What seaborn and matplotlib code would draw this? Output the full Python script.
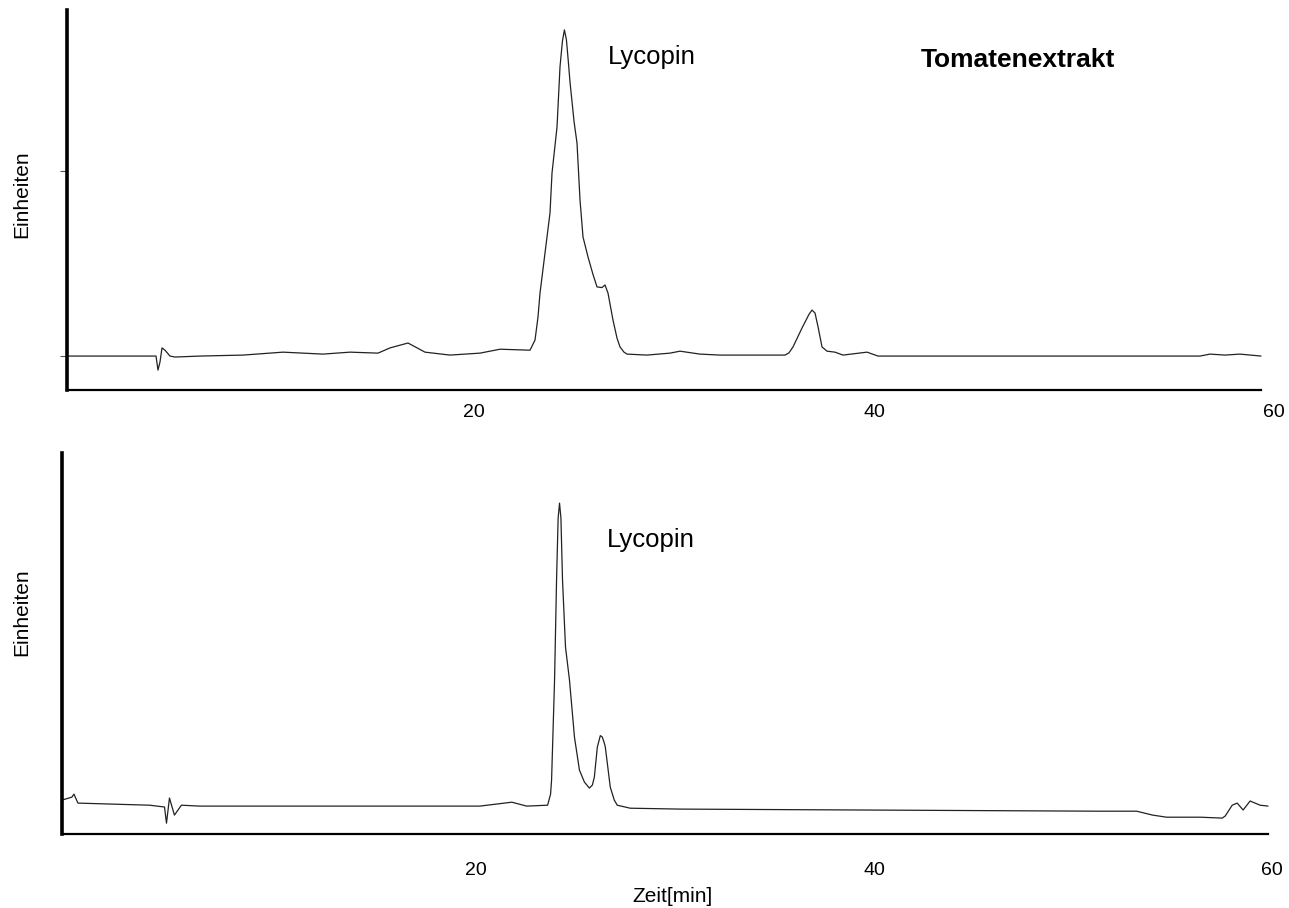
import numpy as np
import pandas as pd
import matplotlib
matplotlib.use("Agg")
import matplotlib.pyplot as plt
import seaborn as sns

# Chromatogramm Tomatenextrakt (oben) und Lycopin-Standard (unten)
# Zeit in min, Signal in relativen Einheiten (Hauptpeak = 100)
zeit_oben = [-0.35, 3.8, 4.1, 4.2, 4.3, 4.4, 4.55, 4.8, 5.05, 6.3, 8.45, 10.45,
             12.45, 13.8, 15.2, 15.8, 16.7, 17.55, 18.8, 20.3, 21.3, 22.8, 23.05,
             23.2, 23.3, 23.55, 23.8, 23.9, 24.15, 24.3, 24.42, 24.52, 24.62,
             24.72, 24.8, 25.0, 25.15, 25.3, 25.45, 25.7, 25.95, 26.15, 26.4,
             26.55, 26.7, 26.95, 27.15, 27.3, 27.5, 27.65, 28.65, 29.8,
             30.3, 31.3, 32.3, 35.55, 35.75, 35.95, 36.4, 36.75, 36.9, 37.05,
             37.2, 37.4, 37.65, 38.05, 38.45, 39.65, 40.2, 46.3, 56.3, 56.8,
             57.55, 58.3, 59.35]
signal_oben = [0, 0, 0, -4.3, -1.8, 2.5, 1.8, 0, -0.3, 0, 0.3, 1.2,
               0.6, 1.2, 0.9, 2.5, 4.0, 1.2, 0.3, 0.9, 2.1, 1.8, 4.9,
               12.0, 19.3, 31.6, 43.9, 56.1, 70.2, 88.7, 96.5, 100, 97.0,
               90.0, 84.0, 72.0, 65.3, 47.9, 36.5, 30.4, 25.0, 21.2, 21.0,
               21.8, 19.3, 11.0, 5.5, 2.8, 1.2, 0.6, 0.3, 0.9,
               1.5, 0.6, 0.3, 0.3, 1.0, 2.8, 8.6, 12.8, 14.1, 13.2,
               9.0, 2.8, 1.5, 1.2, 0.3, 1.2, 0, 0, 0, 0.6,
               0.3, 0.6, 0]

zeit_unten = [-0.8, -0.3, -0.2, 0, 3.6, 4.35, 4.45, 4.6, 4.85, 5.2, 6.1, 7.6,
              11.15, 20.2, 21.8, 22.55, 23.6, 23.75, 23.8, 23.95, 24.05, 24.13,
              24.2, 24.27, 24.35, 24.5, 24.7, 24.95, 25.2, 25.45, 25.7, 25.85,
              25.95, 26.1, 26.25, 26.35, 26.45, 26.5, 26.75, 26.95, 27.1, 27.75,
              30.25, 51.35, 53.2, 54.0, 54.7, 56.4, 57.5, 57.65, 58.0, 58.25,
              58.55, 58.9, 59.4, 59.8]
signal_unten = [1.0, 2.0, 3.0, 0, -0.7, -1.3, -6.7, 1.7, -4.0, -0.7, -1.0, -1.0,
                -1.0, -1.0, 0.3, -1.0, -0.7, 3.0, 7.7, 41, 74.3, 95,
                100, 95, 74.3, 52, 41, 22, 11, 7.0, 5, 6.0,
                8.7, 18.7, 22.5, 22, 20.0, 18.7, 5.3, 1.0, -0.7, -1.7,
                -2.0, -2.7, -2.7, -4.0, -4.7, -4.7, -5.0, -4.3, -0.7, 0,
                -2.3, 0.7, -0.7, -1.0]

x_ticks = [20, 40, 60]
x_labels = ["20", "40", "60"]

sns.set_style("white")
plt.rcParams['font.family'] = ['Liberation Sans', 'DejaVu Sans']
plt.rcParams['text.color'] = 'black'
plt.rcParams['xtick.color'] = 'black'
plt.rcParams['ytick.color'] = 'black'
plt.rcParams['axes.labelcolor'] = 'black'

fig = plt.figure(figsize=(12.89, 9.08), dpi=100)
ax1 = fig.add_axes([0.05198, 0.5705, 0.9395, 0.4185])
ax2 = fig.add_axes([0.0481, 0.0815, 0.9418, 0.4196])

df_oben = pd.DataFrame({"Zeit": zeit_oben, "Signal": signal_oben})
df_unten = pd.DataFrame({"Zeit": zeit_unten, "Signal": signal_unten})

sns.lineplot(data=df_oben, x="Zeit", y="Signal", ax=ax1, color="#222222",
             linewidth=0.9, estimator=None, sort=False)
sns.lineplot(data=df_unten, x="Zeit", y="Signal", ax=ax2, color="#222222",
             linewidth=0.9, estimator=None, sort=False)

# Achsen wie im Original: nur links und unten, dicke y-Achse
for ax, xl, yl, xend, pad in [(ax1, -0.35, (-10.4, 106.1), 59.35, 10),
                              (ax2, -0.8, (-10.3, 116.7), 59.8, 20)]:
    ax.set_xlim(xl, 60.2)
    ax.set_ylim(*yl)
    ax.spines['top'].set_visible(False)
    ax.spines['right'].set_visible(False)
    ax.spines['left'].set_linewidth(2.6)
    ax.spines['bottom'].set_linewidth(1.6)
    ax.spines['left'].set_color("black")
    ax.spines['bottom'].set_color("black")
    ax.spines['bottom'].set_bounds(xl, xend)
    ax.set_xticks(x_ticks)
    ax.set_xticklabels(x_labels)
    ax.tick_params(axis='x', length=0, pad=pad, labelsize=14, labelcolor='black')
    ax.set_xlabel("")
    ax.set_ylabel("")

ax1.set_yticks([0, 56.7])
ax1.set_yticklabels([])
ax1.tick_params(axis='y', left=True, length=5, width=0.8, color="#555555")
ax2.set_yticks([])

ax1.text(26.7, 91.7, "Lycopin", fontsize=18.5, ha='left', va='center', color='black')
ax1.text(47.2, 90.8, "Tomatenextrakt", fontsize=19, fontweight='bold',
         ha='center', va='center', color='black')
ax2.text(26.6, 87.7, "Lycopin", fontsize=18.5, ha='left', va='center', color='black')

fig.text(22 / 1289, 1 - 194 / 908, "Einheiten", rotation=90, fontsize=15,
         ha='center', va='center', color='black')
fig.text(22 / 1289, 1 - 612 / 908, "Einheiten", rotation=90, fontsize=15,
         ha='center', va='center', color='black')
fig.text(673 / 1289, 1 - 897 / 908, "Zeit[min]", fontsize=15,
         ha='center', va='center', color='black')

fig.savefig("out.png", dpi=100)
plt.close(fig)
